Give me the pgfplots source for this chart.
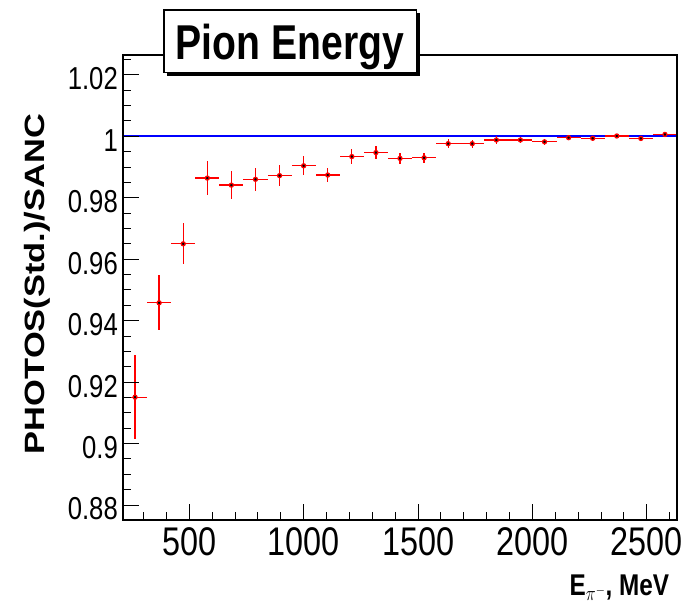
\documentclass[border=0pt]{standalone}
\usepackage{fontspec}
\setmainfont{Liberation Sans}
\usepackage{graphicx}
\usepackage{pgfplots}
\usepackage{pgfplotstable}
\pgfplotsset{compat=1.18}
\newcommand{\nx}[1]{\scalebox{0.81}[1]{#1}}
% bins: centre x, half width ex, ratio y, error ey
\pgfplotstableread{
x ex y ey
262.65 52.652 0.9151 0.0137
367.96 52.652 0.9458 0.0089
473.26 52.652 0.9650 0.0067
578.57 52.652 0.9864 0.0054
683.87 52.652 0.9841 0.0045
789.17 52.652 0.9860 0.0038
894.48 52.652 0.9872 0.0033
999.78 52.652 0.9904 0.0031
1105.09 52.652 0.9874 0.0024
1210.39 52.652 0.9934 0.0024
1315.70 52.652 0.9947 0.0022
1421.00 52.652 0.9928 0.0017
1526.30 52.652 0.9930 0.0016
1631.61 52.652 0.9976 0.0014
1736.91 52.652 0.9976 0.0013
1842.22 52.652 0.9988 0.0012
1947.52 52.652 0.9988 0.0010
2052.83 52.652 0.9982 0.0009
2158.13 52.652 0.99955 0.0008
2263.43 52.652 0.99935 0.0007
2368.74 52.652 1.0001 0.0005
2474.04 52.652 0.9993 0.0006
2579.35 52.652 1.0006 0.0005
}\ratio
\begin{document}
\begin{tikzpicture}
\begin{axis}[
  at={(123pt,93pt)}, anchor=south west,
  scale only axis, width=554pt, height=465pt,
  xmin=210, xmax=2632, ymin=0.87512, ymax=1.02646,
  clip=false,
  axis on top,
  axis line style={line width=1.5pt},
  tick style={line width=1pt, draw=black},
  tick align=inside,
  xtick pos=bottom, ytick pos=left,
  major tick length=15.5pt, minor tick length=7.5pt,
  xtick={500,1000,1500,2000,2500},
  xticklabels={\nx{500},\nx{1000},\nx{1500},\nx{2000},\nx{2500}},
  minor xtick={300,400,...,2600},
  ytick={0.88,0.9,0.92,0.94,0.96,0.98,1,1.02},
  yticklabels={\nx{0.88},\nx{0.9},\nx{0.92},\nx{0.94},\nx{0.96},\nx{0.98},\nx{1},\nx{1.02}},
  minor ytick={0.88,0.885,0.89,0.895,0.9,0.905,0.91,0.915,0.92,0.925,0.93,0.935,0.94,0.945,0.95,0.955,0.96,0.965,0.97,0.975,0.98,0.985,0.99,0.995,1,1.005,1.01,1.015,1.02,1.025},
  /pgf/number format/assume math mode=true,
  xticklabel style={font=\fontsize{40}{42}\selectfont, inner sep=0pt, yshift=-7.5pt},
  yticklabel style={font=\fontsize{31.7}{33}\selectfont, inner sep=0pt, xshift=-5pt, yshift=-4pt},
  xlabel={\nx{\bfseries E$_{\pi^{-}}$, MeV}},
  xlabel style={font=\fontsize{30}{32}\selectfont, at={(axis description cs:0.9861,-0.1613)}, anchor=base east, inner sep=0pt},
  ylabel={\scalebox{1.235}[1]{\bfseries PHOTOS(Std.)/SANC}},
  ylabel style={font=\fontsize{27.9}{30}\selectfont, at={(axis description cs:-0.1408,0.5075)}, anchor=base, inner sep=0pt},
]
\addplot[draw=blue, line width=2pt, mark=none] coordinates {(210,1) (2632,1)};
\addplot[draw=red, line width=1.3pt, only marks, mark=none,
  error bars/.cd, x dir=both, x explicit, y dir=both, y explicit, error mark=none,
  error bar style={draw=red, line width=1.3pt}]
  table[x=x, y=y, x error=ex, y error=ey] {\ratio};
\end{axis}
\fill[black] (167pt,537pt) rectangle (419.5pt,600pt);
\filldraw[fill=white, draw=black, line width=1.5pt] (164pt,540.3pt) rectangle (416.7pt,603pt);
\node[font=\bfseries\fontsize{48.9}{50}\selectfont, anchor=base, inner sep=0pt] at (289.8pt,553pt) {\scalebox{0.8}[1]{Pion Energy}};
\path[use as bounding box] (0,0) rectangle (686pt,613pt);
\end{tikzpicture}
\end{document}
